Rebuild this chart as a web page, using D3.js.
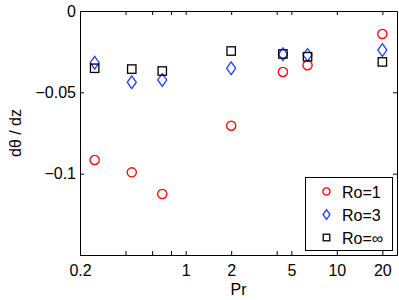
<!DOCTYPE html>
<html>
<head>
<meta charset="utf-8">
<script src="https://cdn.jsdelivr.net/npm/d3@7"></script>
<style>
  body { margin: 0; background: #fff; }
  svg { display: block; font-family: "Liberation Sans", Arial, sans-serif; }
  .axis path, .axis line { stroke: #000; stroke-width: 1; }
  .axis text { font-size: 16px; fill: #000; }
</style>
</head>
<body>
<div id="main"></div>
<script>
// Pr values on the x axis
const pr = [0.25, 0.44, 0.7, 2, 4.4, 6.4, 20]
// dθ/dz for each rotation number
const ro1 = [-0.0916, -0.0992, -0.1125, -0.0705, -0.0375, -0.0334, -0.0141]
const ro3 = [-0.0318, -0.0438, -0.0424, -0.0352, -0.0266, -0.0270, -0.0240]
const roInf = [-0.0352, -0.0357, -0.0369, -0.0246, -0.0264, -0.0281, -0.0313]

const seriesNames = ['Ro=1', 'Ro=3', 'Ro=\u221e']
const xTicks = [0.2, 0.4, 0.6, 0.8, 1, 2, 4, 5, 10, 20]
const xLabels = [0.2, 1, 2, 5, 10, 20]
const yTicks = [0, -0.05, -0.1, -0.15]
const yLabels = ['0', '\u22120.05', '\u22120.1', '']

const width = 399
const height = 300
const margin = { top: 11, right: 2, bottom: 45, left: 80 }

const svg = d3.select('#main').append('svg')
  .attr('width', width)
  .attr('height', height)

const x = d3.scaleLog().domain([0.2, 25]).range([margin.left, width - margin.right])
const y = d3.scaleLinear().domain([-0.15, 0]).range([height - margin.bottom, margin.top])

// axes, ticks pointing inward like matlab
svg.append('g').attr('class', 'axis')
  .attr('transform', `translate(0, ${y(-0.15)})`)
  .call(d3.axisBottom(x).tickValues(xTicks).tickSizeInner(-4).tickSizeOuter(0).tickPadding(10)
    .tickFormat(d => xLabels.includes(d) ? String(d) : ''))

svg.append('g').attr('class', 'axis')
  .attr('transform', `translate(0, ${y(0)})`)
  .call(d3.axisTop(x).tickValues(xTicks).tickSizeInner(-4).tickSizeOuter(0).tickFormat(''))

svg.append('g').attr('class', 'axis')
  .attr('transform', `translate(${x(0.2)}, 0)`)
  .call(d3.axisLeft(y).tickValues(yTicks).tickSizeInner(-4).tickSizeOuter(0).tickPadding(4)
    .tickFormat((d, i) => yLabels[i]))

svg.append('g').attr('class', 'axis')
  .attr('transform', `translate(${x(25)}, 0)`)
  .call(d3.axisRight(y).tickValues(yTicks).tickSizeInner(-4).tickSizeOuter(0).tickFormat(''))

svg.selectAll('.axis text').attr('font-family', '"Liberation Sans", Arial, sans-serif')

// axis labels
svg.append('text')
  .attr('x', (x.range()[0] + x.range()[1]) / 2)
  .attr('y', 295)
  .attr('text-anchor', 'middle')
  .attr('font-size', 16)
  .text('Pr')

svg.append('text')
  .attr('transform', `translate(21, ${(y.range()[0] + y.range()[1]) / 2}) rotate(-90)`)
  .attr('text-anchor', 'middle')
  .attr('font-size', 16)
  .text('d\u03b8 / dz')

const circle = (g, r) => g.append('circle').attr('r', r)
const diamond = (g, w, h) => g.append('path').attr('d', `M0,${-h}L${w},0L0,${h}L${-w},0Z`)
const square = (g, s) => g.append('rect').attr('x', -s).attr('y', -s).attr('width', 2 * s).attr('height', 2 * s)

const series = [
  { values: ro1, color: '#ff0000', draw: (g, k) => circle(g, 4.6 * k) },
  { values: ro3, color: '#2040ff', draw: (g, k) => diamond(g, 4.5 * k, 6.3 * k) },
  { values: roInf, color: '#000000', draw: (g, k) => square(g, 4.2 * k) }
]

// data markers
series.forEach(s => {
  const pts = svg.append('g').selectAll('g')
    .data(s.values.map((v, i) => ({ pr: pr[i], v })))
    .enter()
    .append('g')
    .attr('transform', d => `translate(${x(d.pr)}, ${y(d.v)})`)
  pts.each(function () {
    s.draw(d3.select(this), 1)
      .attr('fill', 'none')
      .attr('stroke', s.color)
      .attr('stroke-width', 1.3)
  })
})

// legend
const legend = svg.append('g')
legend.append('rect')
  .attr('x', 305.5).attr('y', 177.5)
  .attr('width', 87).attr('height', 73)
  .attr('fill', '#fff')
  .attr('stroke', '#000')
  .attr('stroke-width', 1)

series.forEach((s, i) => {
  const row = legend.append('g').attr('transform', `translate(0, ${191.5 + i * 23})`)
  const m = row.append('g').attr('transform', 'translate(326.5, 0)')
  s.draw(m, 0.78)
    .attr('fill', 'none')
    .attr('stroke', s.color)
    .attr('stroke-width', 1.3)
  row.append('text')
    .attr('x', 342)
    .attr('y', 6)
    .attr('font-size', 16)
    .text(seriesNames[i])
})
</script>
</body>
</html>
